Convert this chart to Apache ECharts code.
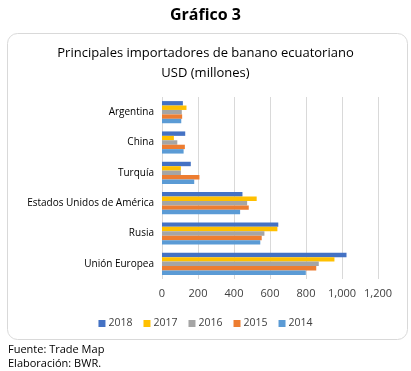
<!DOCTYPE html>
<html>
<head>
<meta charset="utf-8">
<script src="https://cdn.jsdelivr.net/npm/echarts@6/dist/echarts.min.js"></script>
<style>
html,body{margin:0;padding:0;background:#fff;}
#c{width:411px;height:371px;}
</style>
</head>
<body>
<div id="c"></div>
<script>
const categories = ['Argentina', 'China', 'Turquía', 'Estados Unidos de América', 'Rusia', 'Unión Europea'];
const years = ['2018', '2017', '2016', '2015', '2014'];
const v2018 = [116, 129, 160, 447, 646, 1025];
const v2017 = [136, 66, 105, 526, 641, 958];
const v2016 = [110, 85, 105, 473, 569, 871];
const v2015 = [112, 127, 208, 482, 554, 857];
const v2014 = [107, 120, 179, 434, 546, 799];
const xTicks = [0, 200, 400, 600, 800, 1000, 1200];
const colors = ['#4472C4', '#FFC000', '#A5A5A5', '#ED7D31', '#5B9BD5'];
const values = [v2018, v2017, v2016, v2015, v2014];

const FONT = 'Open Sans';
const chart = echarts.init(document.getElementById('c'), null, {renderer: 'canvas'});
chart.setOption({
  animation: false,
  textStyle: {fontFamily: FONT},
  graphic: [
    {type: 'rect', shape: {x: 7.5, y: 33.5, width: 400, height: 306, r: 10},
     style: {fill: '#fff', stroke: '#d9d9d9', lineWidth: 1}, z: -10}
  ],
  title: [
    {text: 'Gráfico 3', left: 'center', top: 2,
     textStyle: {fontFamily: FONT, fontSize: 16, fontWeight: 'bold', color: '#000'}},
    {text: 'Principales importadores de banano ecuatoriano\nUSD (millones)', left: 'center', top: 38,
     textStyle: {fontFamily: FONT, fontSize: 13, fontWeight: 'normal', color: '#000', lineHeight: 20}},
    {text: 'Fuente: Trade Map\nElaboración: BWR.', left: 3, top: 338,
     textStyle: {fontFamily: FONT, fontSize: 11, fontWeight: 'normal', color: '#000', lineHeight: 14}}
  ],
  color: colors,
  legend: {
    data: years, top: 313, left: 'center',
    itemWidth: 7, itemHeight: 7, itemGap: 11, icon: 'rect',
    textStyle: {fontFamily: FONT, fontSize: 10.5, color: '#404040', padding: [0, 0, 0, -2]}
  },
  grid: {left: 162, right: 33, top: 97, bottom: 92, containLabel: false},
  xAxis: {
    type: 'value', min: xTicks[0], max: xTicks[xTicks.length - 1], interval: 200,
    axisLine: {show: false}, axisTick: {show: false},
    splitLine: {lineStyle: {color: '#d9d9d9', width: 1}},
    axisLabel: {fontFamily: FONT, fontSize: 11, color: '#404040', margin: 9,
      formatter: v => v.toLocaleString('en-US')}
  },
  yAxis: {
    type: 'category', data: categories, inverse: true,
    axisLine: {show: false}, axisTick: {show: false},
    axisLabel: {fontFamily: FONT, fontSize: 10, color: '#000', margin: 8}
  },
  series: years.map((y, i) => ({
    name: y, type: 'bar', data: values[i],
    barGap: '0%', barCategoryGap: '27%',
    itemStyle: {color: colors[i]}
  }))
});
</script>
</body>
</html>
